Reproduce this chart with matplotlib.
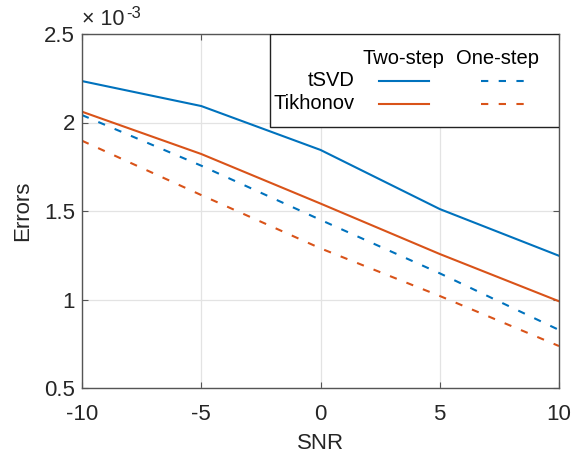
import matplotlib
matplotlib.use("Agg")
import matplotlib.pyplot as plt
from matplotlib.ticker import FuncFormatter

# --- data ------------------------------------------------------------------
snr = [-10, -5, 0, 5, 10]
tsvd_two = [2.234e-3, 2.093e-3, 1.845e-3, 1.511e-3, 1.247e-3]
tikh_two = [2.061e-3, 1.822e-3, 1.542e-3, 1.257e-3, 0.990e-3]
tsvd_one = [2.042e-3, 1.756e-3, 1.450e-3, 1.148e-3, 0.828e-3]
tikh_one = [1.897e-3, 1.590e-3, 1.289e-3, 1.020e-3, 0.737e-3]
x_ticks = [-10, -5, 0, 5, 10]
y_ticks = [0.5e-3, 1.0e-3, 1.5e-3, 2.0e-3, 2.5e-3]

BLUE = "#0072BD"
ORANGE = "#D95319"
TXT = "#262626"
AX = "#555555"
DASH = (0, (3.5, 5))

plt.rcParams["font.family"] = ["Liberation Sans", "DejaVu Sans"]
plt.rcParams["axes.unicode_minus"] = False

fig = plt.figure(figsize=(5.71, 4.59), dpi=100)
ax = fig.add_axes([82 / 571, 1 - 388 / 459, 477 / 571, 354 / 459])

lw = 1.5
ax.plot(snr, tsvd_two, color=BLUE, lw=lw)
ax.plot(snr, tikh_two, color=ORANGE, lw=lw)
ax.plot(snr, tsvd_one, color=BLUE, lw=lw, ls=DASH)
ax.plot(snr, tikh_one, color=ORANGE, lw=lw, ls=DASH)

ax.set_xlim(-10, 10)
ax.set_ylim(0.5e-3, 2.5e-3)
ax.set_xticks(x_ticks)
ax.set_yticks(y_ticks)
ax.yaxis.set_major_formatter(FuncFormatter(lambda v, p: "%g" % round(v * 1e3, 3)))
ax.tick_params(direction="in", length=4, width=0.8, colors=AX,
               labelcolor=TXT, labelsize=16, top=True, right=True)
ax.tick_params(axis="x", pad=11.5)
ax.tick_params(axis="y", pad=5)
ax.grid(True, color="#e3e3e3", lw=0.9)
ax.set_axisbelow(True)
for s in ax.spines.values():
    s.set_color(AX)
    s.set_linewidth(1.0)

ax.set_xlabel("SNR", fontsize=16, color=TXT, labelpad=6)
ax.set_ylabel("Errors", fontsize=16, color=TXT, labelpad=8)

# exponent label in MATLAB style
ax.text(0.0, 1.012, "\u00d7 10", transform=ax.transAxes, fontsize=15.5,
        color=TXT, ha="left", va="bottom")
ax.text(0.093, 1.038, "-3", transform=ax.transAxes, fontsize=12,
        color=TXT, ha="left", va="bottom")

# --- table-style legend ----------------------------------------------------
box = plt.Rectangle((0.394, 0.737), 0.606, 0.263, transform=ax.transAxes,
                    facecolor="white", edgecolor="#222222", lw=1.0, zorder=5)
ax.add_patch(box)
lk = dict(transform=ax.transAxes, fontsize=14.5, color="black", zorder=6)
ax.text(0.673, 0.932, "Two-step", ha="center", va="center", **lk)
ax.text(0.872, 0.932, "One-step", ha="center", va="center", **lk)
ax.text(0.572, 0.868, "tSVD", ha="right", va="center", **lk)
ax.text(0.572, 0.803, "Tikhonov", ha="right", va="center", **lk)
for yy, col in [(0.868, BLUE), (0.803, ORANGE)]:
    ax.plot([0.623, 0.727], [yy, yy], color=col, lw=lw,
            transform=ax.transAxes, zorder=6)
    ax.plot([0.836, 0.927], [yy, yy], color=col, lw=lw, ls=DASH,
            transform=ax.transAxes, zorder=6)

fig.savefig("out.png", dpi=100)
